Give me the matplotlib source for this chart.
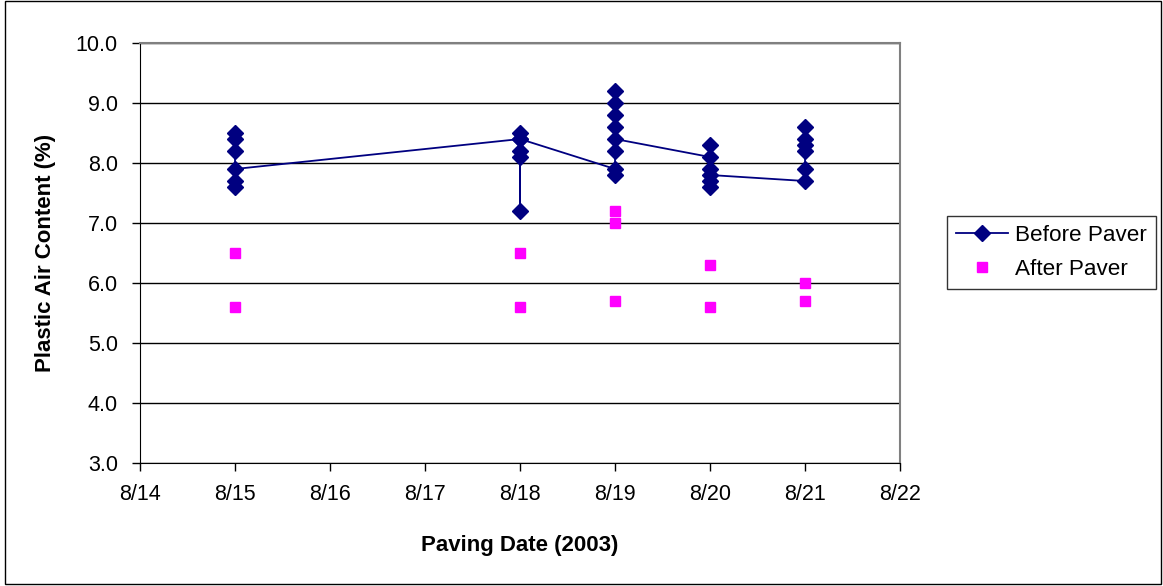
import matplotlib
matplotlib.use("Agg")
import matplotlib.pyplot as plt
from matplotlib.patches import Rectangle
from matplotlib.ticker import FixedLocator, FuncFormatter

plt.rcParams["font.family"] = ["Liberation Sans", "DejaVu Sans"]

# paving day in August 2003, in the order the points are joined
before_day = [15, 15, 15, 15, 15, 15,
              18, 18, 18, 18, 18, 18,
              19, 19, 19, 19, 19, 19, 19, 19,
              20, 20, 20, 20, 20, 20,
              21, 21, 21, 21, 21, 21]
before_air = [8.5, 8.4, 8.2, 7.6, 7.7, 7.9,
              8.4, 8.5, 8.2, 8.1, 7.2, 8.4,
              7.9, 7.8, 9.2, 9.0, 8.8, 8.6, 8.2, 8.4,
              8.1, 8.3, 7.9, 7.6, 7.7, 7.8,
              7.7, 7.9, 8.6, 8.4, 8.3, 8.2]

after_day = [15, 15, 18, 18, 19, 19, 19, 20, 20, 21, 21]
after_air = [6.5, 5.6, 6.5, 5.6, 7.2, 7.0, 5.7, 6.3, 5.6, 6.0, 5.7]

day_ticks = list(range(14, 23))
y_ticks = [3.0, 4.0, 5.0, 6.0, 7.0, 8.0, 9.0, 10.0]

fig = plt.figure(figsize=(11.63, 5.86), dpi=100)
ax = fig.add_axes([0.1204, 0.2099, 0.6535, 0.7167])

ax.plot(before_day, before_air, color="#000080", lw=1.3, marker="D", ms=8,
        mec="#000080", mfc="#000080", label="Before Paver", zorder=3)
ax.plot(after_day, after_air, ls="none", marker="s", ms=7.5,
        color="#FF00FF", label="After Paver", zorder=3)

ax.set_xlim(14, 22)
ax.set_ylim(3, 10)
ax.xaxis.set_major_locator(FixedLocator(day_ticks))
ax.xaxis.set_major_formatter(FuncFormatter(lambda v, p: f"8/{int(round(v))}"))
ax.yaxis.set_major_locator(FixedLocator(y_ticks))
ax.yaxis.set_major_formatter(FuncFormatter(lambda v, p: f"{v:.1f}"))
ax.grid(axis="y", color="black", lw=1)
ax.set_axisbelow(True)
ax.tick_params(direction="out", length=6, width=1, labelsize=15.5, color="black")
ax.tick_params(axis="x", pad=9)
ax.tick_params(axis="y", pad=10)
for s in ("top", "right"):
    ax.spines[s].set_color("#808080")
    ax.spines[s].set_linewidth(1.5)
for s in ("left", "bottom"):
    ax.spines[s].set_color("black")

ax.set_xlabel("Paving Date (2003)", fontsize=16, fontweight="bold", labelpad=22)
ax.set_ylabel("Plastic Air Content (%)", fontsize=16, fontweight="bold", labelpad=14)

leg = fig.legend(loc="center left", bbox_to_anchor=(0.8145, 0.569), fontsize=16.2,
                 frameon=True, fancybox=False, edgecolor="black", borderpad=0.38,
                 borderaxespad=0, handlelength=2.3, handletextpad=0.35,
                 labelspacing=0.6)
leg.get_frame().set_linewidth(1)

fig.patches.append(Rectangle((0.004, 0.004), 0.994, 0.994, transform=fig.transFigure,
                             fill=False, edgecolor="black", lw=1))

fig.savefig("out.png", dpi=100)
